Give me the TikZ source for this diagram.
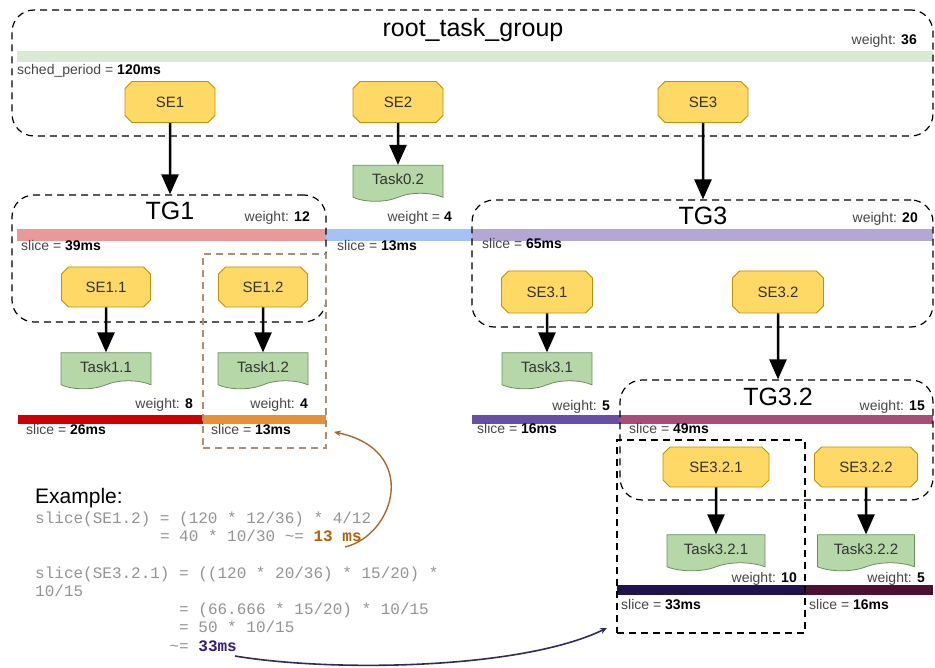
\documentclass[tikz,border=0pt]{standalone}
\usepackage{fontspec}
\setmainfont{Liberation Sans}
\setmonofont{Liberation Mono}
\usetikzlibrary{arrows.meta,shapes.misc,shapes.symbols,positioning}

\definecolor{sefill}{HTML}{FFD966}
\definecolor{seline}{HTML}{BF9000}
\definecolor{taskfill}{HTML}{B6D7A8}
\definecolor{taskline}{HTML}{6A8F5A}
\definecolor{labgray}{HTML}{454545}
\definecolor{codegray}{HTML}{939393}
\definecolor{hlbrown}{HTML}{A89078}
\definecolor{arcbrown}{HTML}{A8692E}
\definecolor{ms13}{HTML}{B45F06}
\definecolor{ms33}{HTML}{351C75}
\definecolor{arcnavy}{HTML}{2E2B5E}
\definecolor{barroot}{HTML}{D9EAD3}
\definecolor{bartg1}{HTML}{EA9999}
\definecolor{bartask02}{HTML}{A4C2F4}
\definecolor{bartg3}{HTML}{B4A7D6}
\definecolor{bartask11}{HTML}{CC0000}
\definecolor{bartask12}{HTML}{E69138}
\definecolor{bartask31}{HTML}{674EA7}
\definecolor{bartg32}{HTML}{A64D79}
\definecolor{bartask321}{HTML}{20124D}
\definecolor{bartask322}{HTML}{4C1130}

\begin{document}
\begin{tikzpicture}[x=1pt,y=-1pt,
    se/.style={chamfered rectangle,chamfered rectangle xsep=3.5pt,chamfered rectangle ysep=3.5pt,
      draw=seline,fill=sefill,line width=0.8pt,minimum width=90pt,minimum height=41pt,
      inner sep=0pt,font=\fontsize{15}{18}\selectfont,text=black!80},
    task/.style={tape,tape bend top=none,tape bend height=8pt,draw=taskline,fill=taskfill,
      line width=0.8pt,minimum width=90pt,minimum height=36pt,inner sep=0pt,
      font=\fontsize{15}{18}\selectfont,text=black!80},
    group/.style={draw,dash pattern=on 7pt off 5pt,line width=1.2pt,rounded corners=22pt,inner sep=0pt},
    hlbox/.style={draw,dash pattern=on 7pt off 5pt,line width=1.2pt,inner sep=0pt},
    title/.style={font=\fontsize{25}{30}\selectfont,inner sep=0pt,anchor=base},
    lab/.style={font=\fontsize{14}{16}\selectfont,text=labgray,inner sep=0pt},
    code/.style={font=\ttfamily\fontsize{16}{18}\selectfont,text=codegray,inner sep=0pt,anchor=base west},
    link/.style={line width=2.5pt,-{Triangle[length=20pt,width=17pt]}}]

  \useasboundingbox (0,0) rectangle (935,668);

  % time slice bars
  \fill[barroot] (17,51) rectangle (933,62);
  \fill[bartg1] (17,229) rectangle (326,241);
  \fill[bartask02] (326,229) rectangle (472,241);
  \fill[bartg3] (472,229) rectangle (933,241);
  \fill[bartask11] (18,415) rectangle (203,424);
  \fill[bartask12] (203,415) rectangle (326,424);
  \fill[bartask31] (472,415) rectangle (619,424);
  \fill[bartg32] (619,415) rectangle (933,424);
  \fill[bartask321] (617,585) rectangle (805,595);
  \fill[bartask322] (805,585) rectangle (933,595);

  % groups
  \node[group,minimum width=921pt,minimum height=126pt] (root) at (472.5,73) {};
  \node[group,minimum width=314pt,minimum height=127pt] (tg1) at (169,258.5) {};
  \node[group,minimum width=461pt,minimum height=127pt] (tg3) at (702.5,263.5) {};
  \node[group,minimum width=313pt,minimum height=120pt] (tg32) at (776.5,440) {};
  \node[hlbox,draw=hlbrown,minimum width=123pt,minimum height=194pt] (hl12) at (264.5,351) {};
  \node[hlbox,minimum width=188pt,minimum height=193pt] (hl321) at (711,536.5) {};

  \node[title] (roottitle) at (473,37) {root\_task\_group};
  \node[title] (tg1title) at (170,220) {TG1};
  \node[title] (tg3title) at (703,225) {TG3};
  \node[title] (tg32title) at (778,406) {TG3.2};

  % scheduling entities
  \node[se] (se1) at (170,102) {SE1};
  \node[se] (se2) at (398,102) {SE2};
  \node[se] (se3) at (703,102) {SE3};
  \node[se,minimum width=89pt,minimum height=40pt] (se11) at (106,287) {SE1.1};
  \node[se,minimum width=89pt,minimum height=40pt] (se12) at (263,287) {SE1.2};
  \node[se,minimum width=91pt,minimum height=42pt] (se31) at (547,292) {SE3.1};
  \node[se,minimum width=91pt,minimum height=42pt] (se32) at (778,292) {SE3.2};
  \node[se,minimum width=106pt,minimum height=40pt] (se321) at (716,467) {SE3.2.1};
  \node[se,minimum width=103pt,minimum height=40pt] (se322) at (866,467) {SE3.2.2};

  % tasks
  \node[task] (task02) [below=42pt of se2] {Task0.2};
  \node[task] (task11) [below=45pt of se11] {Task1.1};
  \node[task] (task12) [below=45pt of se12] {Task1.2};
  \node[task] (task31) [below=39pt of se31] {Task3.1};
  \node[task,minimum width=98pt] (task321) [below=47pt of se321] {Task3.2.1};
  \node[task,minimum width=97pt] (task322) [below=47pt of se322] {Task3.2.2};

  \path[link] (se1) edge (se1 |- tg1.north)
              (se2) edge (task02)
              (se3) edge (se3 |- tg3.north)
              (se11) edge (task11)
              (se12) edge (task12)
              (se31) edge (task31)
              (se32) edge (se32 |- tg32.north)
              (se321) edge (task321)
              (se322) edge (task322);

  % weights and slices
  \node[lab,anchor=base east] (w36) at (917,45) {weight: \textbf{\color{black}36}};
  \node[lab,anchor=base west] (sched) at (17,75) {sched\_period = \textbf{\color{black}120ms}};
  \node[lab,anchor=base east] (w12) at (310,222) {weight: \textbf{\color{black}12}};
  \node[lab,anchor=base east] (w02) at (452,222) {weight = \textbf{\color{black}4}};
  \node[lab,anchor=base east] (w20) at (918,223) {weight: \textbf{\color{black}20}};
  \node[lab,anchor=base west] (s39) at (21,251) {slice = \textbf{\color{black}39ms}};
  \node[lab,anchor=base west] (s02) at (337,251) {slice = \textbf{\color{black}13ms}};
  \node[lab,anchor=base west] (s65) at (482,249) {slice = \textbf{\color{black}65ms}};
  \node[lab,anchor=base east] (w11) at (193,409) {weight: \textbf{\color{black}8}};
  \node[lab,anchor=base east] (w12b) at (308,409) {weight: \textbf{\color{black}4}};
  \node[lab,anchor=base east] (w31) at (610,410) {weight: \textbf{\color{black}5}};
  \node[lab,anchor=base east] (w32) at (925,410) {weight: \textbf{\color{black}15}};
  \node[lab,anchor=base west] (s11) at (26,435) {slice = \textbf{\color{black}26ms}};
  \node[lab,anchor=base west] (s12) at (211,435) {slice = \textbf{\color{black}13ms}};
  \node[lab,anchor=base west] (s31) at (477,434) {slice = \textbf{\color{black}16ms}};
  \node[lab,anchor=base west] (s32) at (629,434) {slice = \textbf{\color{black}49ms}};
  \node[lab,anchor=base east] (w321) at (797,582) {weight: \textbf{\color{black}10}};
  \node[lab,anchor=base east] (w322) at (925,582) {weight: \textbf{\color{black}5}};
  \node[lab,anchor=base west] (s321) at (621,609) {slice = \textbf{\color{black}33ms}};
  \node[lab,anchor=base west] (s322) at (809,609) {slice = \textbf{\color{black}16ms}};

  % worked example
  \node[inner sep=0pt,anchor=base west,font=\fontsize{21}{25}\selectfont] (extitle) at (35,503) {Example:};
  \node[code] (ex1) at (35,523) {slice(SE1.2) = (120 * 12/36) * 4/12};
  \node[code] (ex2) at (35,541) {~~~~~~~~~~~~~= 40 * 10/30 \textasciitilde= \textcolor{ms13}{\textbf{13 ms}}};
  \node[code] (ex3) at (35,578) {slice(SE3.2.1) = ((120 * 20/36) * 15/20) *};
  \node[code] (ex4) at (35,596) {10/15};
  \node[code] (ex5) at (35,614) {~~~~~~~~~~~~~~~= (66.666 * 15/20) * 10/15};
  \node[code] (ex6) at (35,632) {~~~~~~~~~~~~~~~= 50 * 10/15};
  \node[code] (ex7) at (35,651) {~~~~~~~~~~~~~~\textasciitilde= \textcolor{ms33}{\textbf{33ms}}};

  \coordinate (from13) at (345,547);
  \coordinate (to13) at (334,432);
  \coordinate (from33) at (235,656);
  \coordinate (to33) at (607,628);
  \draw[arcbrown,line width=1.4pt,-{Stealth[length=7pt,width=6pt]}]
    (from13) .. controls (395,535) and (420,450) .. (to13);
  \draw[arcnavy,line width=1.6pt,-{Stealth[length=7pt,width=6pt]}]
    (from33) .. controls (330,672) and (520,670) .. (to33);
\end{tikzpicture}
\end{document}
